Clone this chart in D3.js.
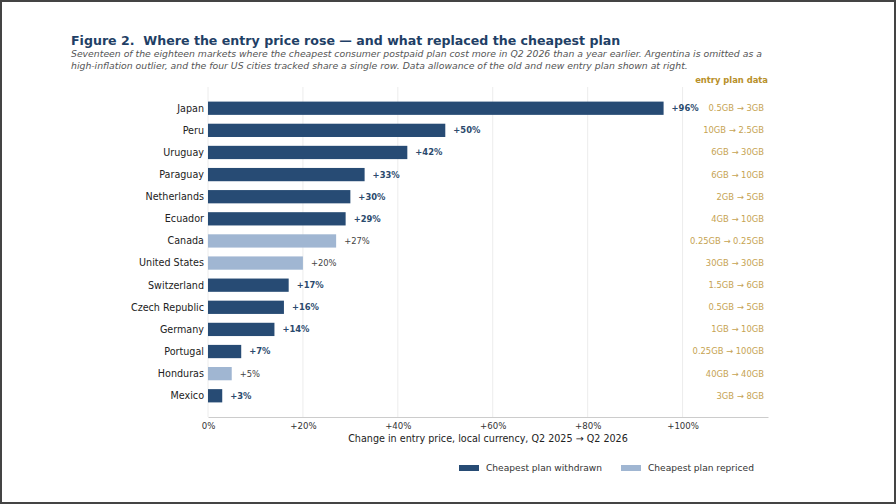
<!DOCTYPE html>
<html>
<head>
<meta charset="utf-8">
<script src="https://cdn.jsdelivr.net/npm/d3@7"></script>
<style>
  body { margin: 0; background: #fff; }
  svg { display: block; font-family: "DejaVu Sans", sans-serif; }
</style>
</head>
<body>
<div id="chart"></div>
<script>
var countries = ["Japan", "Peru", "Uruguay", "Paraguay", "Netherlands", "Ecuador", "Canada",
    "United States", "Switzerland", "Czech Republic", "Germany", "Portugal", "Honduras", "Mexico"];
var priceChange = [96, 50, 42, 33, 30, 29, 27, 20, 17, 16, 14, 7, 5, 3];
var planStatus = ["withdrawn", "withdrawn", "withdrawn", "withdrawn", "withdrawn", "withdrawn", "repriced",
    "repriced", "withdrawn", "withdrawn", "withdrawn", "withdrawn", "repriced", "withdrawn"];
var oldPlan = ["0.5GB", "10GB", "6GB", "6GB", "2GB", "4GB", "0.25GB", "30GB", "1.5GB", "0.5GB", "1GB", "0.25GB", "40GB", "3GB"];
var newPlan = ["3GB", "2.5GB", "30GB", "10GB", "5GB", "10GB", "0.25GB", "30GB", "6GB", "5GB", "10GB", "100GB", "40GB", "8GB"];
var xTicks = [0, 20, 40, 60, 80, 100];
var legendItems = ["withdrawn", "repriced"];
var legendLabels = ["Cheapest plan withdrawn", "Cheapest plan repriced"];

var data = countries.map(function(c, i) {
    return {name: c, value: priceChange[i], status: planStatus[i], from: oldPlan[i], to: newPlan[i]};
});

var W = 896, H = 504;
var svg = d3.select("#chart").append("svg")
    .attr("width", W)
    .attr("height", H);

svg.append("rect")
    .attr("x", 1).attr("y", 1)
    .attr("width", W - 2).attr("height", H - 2)
    .attr("fill", "#fff")
    .attr("stroke", "#444")
    .attr("stroke-width", 2);

var color = d3.scaleOrdinal()
    .domain(["withdrawn", "repriced"])
    .range(["#274b74", "#a0b6d2"]);

var box = {xmin: 208, xmax: 768, ymin: 87, ymax: 417};

var x = d3.scaleLinear()
    .domain([0, 118])
    .range([box.xmin, box.xmax]);

var y = d3.scaleBand()
    .domain(countries)
    .range([box.ymin, box.ymax])
    .paddingInner(0.4)
    .paddingOuter(0.66);

// title + subtitle
svg.append("text")
    .attr("x", 71).attr("y", 45)
    .attr("fill", "#1f3f66")
    .style("font-size", "12.6px")
    .style("font-weight", "bold")
    .attr("xml:space", "preserve")
    .text("Figure 2.  Where the entry price rose \u2014 and what replaced the cheapest plan");

var sub = ["Seventeen of the eighteen markets where the cheapest consumer postpaid plan cost more in Q2 2026 than a year earlier. Argentina is omitted as a",
    "high-inflation outlier, and the four US cities tracked share a single row. Data allowance of the old and new entry plan shown at right."];
svg.selectAll(".subtitle")
    .data(sub)
    .enter().append("text")
        .attr("class", "subtitle")
        .attr("x", 71)
        .attr("y", function(d, i) { return 57 + i * 11.5; })
        .attr("fill", "#555")
        .style("font-size", "9.3px")
        .style("font-style", "italic")
        .text(function(d) { return d; });

// gridlines
svg.selectAll(".gridline")
    .data(xTicks)
    .enter().append("line")
        .attr("class", "gridline")
        .attr("stroke", "#ececec")
        .attr("x1", function(d) { return x(d); })
        .attr("x2", function(d) { return x(d); })
        .attr("y1", box.ymin)
        .attr("y2", box.ymax);

// x axis
var xAxis = svg.append("g")
    .attr("transform", "translate(0," + box.ymax + ")")
    .call(d3.axisBottom(x)
        .tickValues(xTicks)
        .tickSize(0)
        .tickPadding(6)
        .tickFormat(function(d) { return d === 0 ? "0%" : "+" + d + "%"; }));
xAxis.select(".domain").attr("stroke", "#ccc");
xAxis.selectAll("text")
    .attr("fill", "#333")
    .style("font-family", "DejaVu Sans, sans-serif")
    .style("font-size", "8.6px");

svg.append("text")
    .attr("x", (box.xmin + box.xmax) / 2)
    .attr("y", 442)
    .attr("text-anchor", "middle")
    .attr("fill", "#222")
    .style("font-size", "9.6px")
    .text("Change in entry price, local currency, Q2 2025 \u2192 Q2 2026");

// category labels
svg.selectAll(".catLabel")
    .data(data)
    .enter().append("text")
        .attr("class", "catLabel")
        .attr("x", box.xmin - 4)
        .attr("y", function(d) { return y(d.name) + y.bandwidth() / 2; })
        .attr("dy", "0.35em")
        .attr("text-anchor", "end")
        .attr("fill", "#222")
        .style("font-size", "9.6px")
        .text(function(d) { return d.name; });

// bars
svg.selectAll(".bar")
    .data(data)
    .enter().append("rect")
        .attr("class", "bar")
        .attr("x", x(0))
        .attr("y", function(d) { return y(d.name); })
        .attr("width", function(d) { return x(d.value) - x(0); })
        .attr("height", y.bandwidth())
        .attr("fill", function(d) { return color(d.status); });

// value labels
svg.selectAll(".valueLabel")
    .data(data)
    .enter().append("text")
        .attr("class", "valueLabel")
        .attr("x", function(d) { return x(d.value) + 8; })
        .attr("y", function(d) { return y(d.name) + y.bandwidth() / 2; })
        .attr("dy", "0.35em")
        .attr("fill", function(d) { return d.status === "withdrawn" ? "#2b4a6d" : "#444"; })
        .style("font-weight", function(d) { return d.status === "withdrawn" ? "bold" : "normal"; })
        .style("font-size", "8.4px")
        .text(function(d) { return "+" + d.value + "%"; });

// entry plan data column
svg.append("text")
    .attr("x", 768).attr("y", 83)
    .attr("text-anchor", "end")
    .attr("fill", "#b8902a")
    .style("font-size", "8.4px")
    .style("font-weight", "bold")
    .text("entry plan data");

svg.selectAll(".planLabel")
    .data(data)
    .enter().append("text")
        .attr("class", "planLabel")
        .attr("x", 764)
        .attr("y", function(d) { return y(d.name) + y.bandwidth() / 2; })
        .attr("dy", "0.35em")
        .attr("text-anchor", "end")
        .attr("fill", "#c6a352")
        .style("font-size", "8.4px")
        .text(function(d) { return d.from + " \u2192 " + d.to; });

// legend
var legend = svg.selectAll(".legend")
    .data(legendItems)
    .enter().append("g")
        .attr("class", "legend")
        .attr("transform", function(d, i) { return "translate(" + [459, 621][i] + ",468)"; });
legend.append("rect")
    .attr("x", 0).attr("y", -3)
    .attr("width", 20).attr("height", 6)
    .attr("fill", function(d) { return color(d); });
legend.append("text")
    .attr("x", 27)
    .attr("dy", "0.35em")
    .attr("fill", "#333")
    .style("font-size", "9.1px")
    .text(function(d, i) { return legendLabels[i]; });
</script>
</body>
</html>
